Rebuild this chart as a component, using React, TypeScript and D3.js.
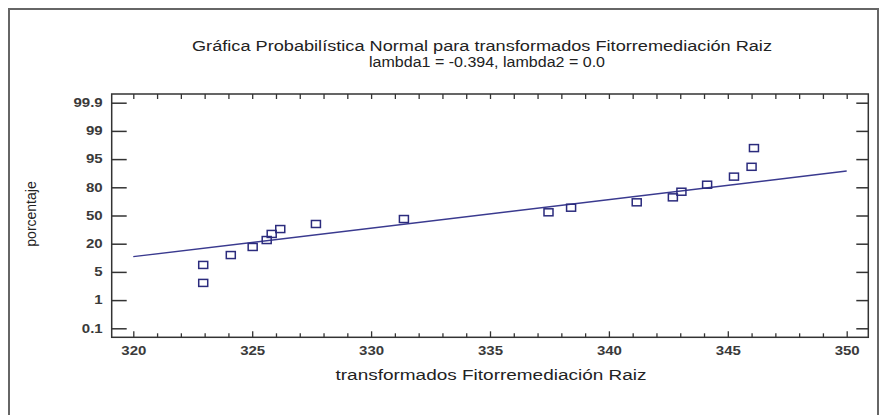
import React, { useEffect, useRef } from 'react';
import * as d3 from 'd3';

// valores transformados (eje x) y porcentaje acumulado
const valores = [322.94, 322.94, 324.1, 325.02, 325.61, 325.82, 326.18, 327.68, 331.38, 337.46, 338.41, 341.17, 342.69, 343.05, 344.13, 345.26, 346.0, 346.1];
const porcentajes = [2.8, 7.4, 12.2, 17.5, 23.2, 29.1, 34.3, 40.0, 45.8, 53.8, 59.2, 65.3, 70.6, 76.1, 82.0, 87.4, 92.3, 97.2];

// recta de referencia (extremos)
const lineaX = [320, 350];
const lineaPct = [11.3, 90.4];

const yTicks = [0.1, 1, 5, 20, 50, 80, 95, 99, 99.9];
const xTicks = [320, 325, 330, 335, 340, 345, 350];
const xMinor = d3.range(320, 351, 1).filter(v => v % 5 !== 0);

const titulo1 = "Gráfica Probabilística Normal para transformados Fitorremediación Raiz";
const titulo2 = "lambda1 = -0.394, lambda2 = 0.0";
const xLabel = "transformados Fitorremediación Raiz";
const yLabel = "porcentaje";

// inversa de la normal (Acklam)
function probit(p: number): number {
  const a = [-3.969683028665376e+01, 2.209460984245205e+02, -2.759285104469687e+02, 1.383577518672690e+02, -3.066479806614716e+01, 2.506628277459239e+00];
  const b = [-5.447609879822406e+01, 1.615858368580409e+02, -1.556989798598866e+02, 6.680131188771972e+01, -1.328068155288572e+01];
  const c = [-7.784894002430293e-03, -3.223964580411365e-01, -2.400758277161838e+00, -2.549732539343734e+00, 4.374664141464968e+00, 2.938163982698783e+00];
  const d = [7.784695709041462e-03, 3.224671290700398e-01, 2.445134137142996e+00, 3.754408661907416e+00];
  const pl = 0.02425, ph = 1 - pl;
  if (p < pl) {
    const q = Math.sqrt(-2 * Math.log(p));
    return (((((c[0] * q + c[1]) * q + c[2]) * q + c[3]) * q + c[4]) * q + c[5]) / ((((d[0] * q + d[1]) * q + d[2]) * q + d[3]) * q + 1);
  }
  if (p <= ph) {
    const q = p - 0.5, r = q * q;
    return (((((a[0] * r + a[1]) * r + a[2]) * r + a[3]) * r + a[4]) * r + a[5]) * q / (((((b[0] * r + b[1]) * r + b[2]) * r + b[3]) * r + b[4]) * r + 1);
  }
  const q = Math.sqrt(-2 * Math.log(1 - p));
  return -(((((c[0] * q + c[1]) * q + c[2]) * q + c[3]) * q + c[4]) * q + c[5]) / ((((d[0] * q + d[1]) * q + d[2]) * q + d[3]) * q + 1);
}

const W = 880, H = 415;
const frame = { left: 111.7, right: 868.3, top: 94, bottom: 337.3 };
const FONT = "'Liberation Sans', Arial, sans-serif";
const STRETCH = 1.25;

export default function App() {
  const leftRef = useRef<SVGGElement>(null);
  const rightRef = useRef<SVGGElement>(null);
  const bottomRef = useRef<SVGGElement>(null);
  const bottomMinorRef = useRef<SVGGElement>(null);
  const topRef = useRef<SVGGElement>(null);

  const x = d3.scaleLinear().domain([320, 350]).range([133.3, 846.7]);
  const yStep = 28.2, yBase = 328.3;
  const yz = d3.scaleLinear()
    .domain(yTicks.map(p => probit(p / 100)))
    .range(yTicks.map((_, i) => yBase - i * yStep));
  const y = (pct: number) => yz(probit(pct / 100));

  useEffect(() => {
    const zTicks = yTicks.map(p => probit(p / 100));
    const left = d3.select(leftRef.current!);
    left.selectAll("*").remove();
    left.call(d3.axisLeft(yz).tickValues(zTicks).tickFormat((_, i) => String(yTicks[i]))
      .tickSizeInner(-15).tickSizeOuter(0).tickPadding(9));
    left.select(".domain").remove();
    left.selectAll("line").attr("stroke", "#333").attr("stroke-width", 1.5);
    left.selectAll("text")
      .attr("x", -9 / STRETCH)
      .attr("transform", `scale(${STRETCH},1)`)
      .attr("font-family", FONT).attr("font-size", 12).attr("font-weight", "bold").attr("fill", "#3a3a3a");

    const right = d3.select(rightRef.current!);
    right.selectAll("*").remove();
    right.call(d3.axisRight(yz).tickValues(zTicks).tickFormat(() => "").tickSizeInner(-12).tickSizeOuter(0));
    right.select(".domain").remove();
    right.selectAll("line").attr("stroke", "#333").attr("stroke-width", 1.5);

    const bottom = d3.select(bottomRef.current!);
    bottom.selectAll("*").remove();
    bottom.call(d3.axisBottom(x).tickValues(xTicks).tickFormat(d3.format("d"))
      .tickSizeInner(-6).tickSizeOuter(0).tickPadding(9));
    bottom.select(".domain").remove();
    bottom.selectAll("line").attr("stroke", "#333").attr("stroke-width", 1.3);
    bottom.selectAll("text")
      .attr("x", 0)
      .attr("transform", `scale(${STRETCH},1)`)
      .attr("font-family", FONT).attr("font-size", 12).attr("font-weight", "bold").attr("fill", "#3a3a3a");

    const minor = d3.select(bottomMinorRef.current!);
    minor.selectAll("*").remove();
    minor.call(d3.axisBottom(x).tickValues(xMinor).tickFormat(() => "").tickSizeInner(-4).tickSizeOuter(0));
    minor.select(".domain").remove();
    minor.selectAll("line").attr("stroke", "#333").attr("stroke-width", 1.3);

    const top = d3.select(topRef.current!);
    top.selectAll("*").remove();
    top.call(d3.axisTop(x).tickValues(d3.range(320, 351, 1)).tickFormat(() => "")
      .tickSizeInner(-5).tickSizeOuter(0));
    top.select(".domain").remove();
    top.selectAll("line").attr("stroke", "#333").attr("stroke-width", 1.3);
  }, []);

  const linePath = d3.line<number>()
    .x((_, i) => x(lineaX[i]))
    .y((_, i) => y(lineaPct[i]))(lineaX);

  return (
    <svg width={W} height={H} style={{ position: "absolute", left: 0, top: 0, background: "#fff" }}>
      <rect x={9} y={9} width={869} height={420} fill="none" stroke="#666" strokeWidth={2} />
      <text x={482} y={51} textAnchor="middle" fontFamily={FONT} fontSize={14} fill="#222"
        textLength={580} lengthAdjust="spacingAndGlyphs">{titulo1}</text>
      <text x={487} y={67} textAnchor="middle" fontFamily={FONT} fontSize={14} fill="#222"
        textLength={236} lengthAdjust="spacingAndGlyphs">{titulo2}</text>

      <g ref={leftRef} transform={`translate(${frame.left},0)`} />
      <g ref={rightRef} transform={`translate(${frame.right},0)`} />
      <g ref={bottomRef} transform={`translate(0,${frame.bottom})`} />
      <g ref={bottomMinorRef} transform={`translate(0,${frame.bottom})`} />
      <g ref={topRef} transform={`translate(0,${frame.top})`} />
      <rect x={frame.left} y={frame.top} width={frame.right - frame.left} height={frame.bottom - frame.top}
        fill="none" stroke="#333" strokeWidth={1.5} />

      <path d={linePath ?? ""} fill="none" stroke="#3a3a8f" strokeWidth={1.4} />
      {valores.map((v, i) => (
        <rect key={i} x={x(v) - 4.5} y={y(porcentajes[i]) - 3.5} width={9} height={7}
          fill="none" stroke="#2b2b7d" strokeWidth={1.5} />
      ))}

      <text x={491} y={380} textAnchor="middle" fontFamily={FONT} fontSize={14} fill="#222"
        textLength={311} lengthAdjust="spacingAndGlyphs">{xLabel}</text>
      <text transform={`translate(36,214) rotate(-90)`} textAnchor="middle" fontFamily={FONT} fontSize={14} fill="#222">{yLabel}</text>
    </svg>
  );
}
